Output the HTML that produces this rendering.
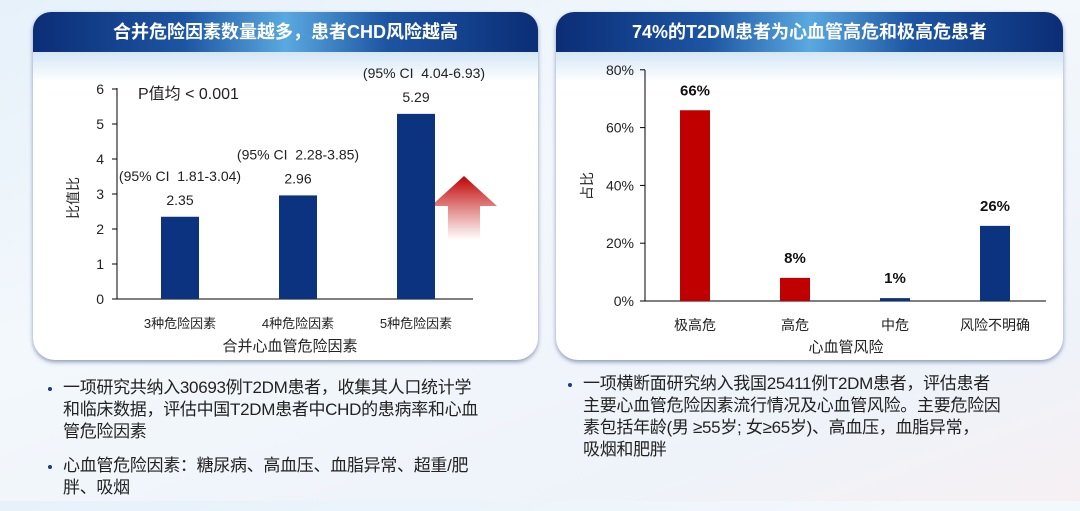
<!DOCTYPE html>
<html><head><meta charset="utf-8"><style>
body{margin:0;width:1080px;height:501px;overflow:hidden;background:linear-gradient(160deg,#e6f1fa 0%,#f3f8fc 40%,#eef3fa 80%,#f6f0f3 100%);font-family:"Liberation Sans","Noto Sans CJK SC",sans-serif;position:relative}
.panel{position:absolute;top:12px;height:348px;background:#fff;border-radius:18px 18px 22px 22px;box-shadow:0 2px 4px rgba(40,60,120,.5);overflow:hidden}
.hdr{height:40px;background:linear-gradient(90deg,#0b2d76 0%,#1d55a3 30%,#5aa9e0 50%,#1d55a3 70%,#0b2d76 100%);color:#fff;font-weight:bold;font-size:18px;text-align:center;line-height:40px}
.fade{height:30px;background:linear-gradient(#d4e6f6,#fff)}
svg{position:absolute;left:0;top:0}
.txt{position:absolute;font-size:17px;color:#222;line-height:22px;white-space:nowrap;letter-spacing:-0.3px}
.txt li{margin-bottom:12px}
ul{margin:0;padding-left:18px}
li::marker{color:#1a3a86;font-size:14px}
text{white-space:pre}
</style></head><body>
<div class="panel" style="left:33px;width:505px"><div class="hdr">合并危险因素数量越多，患者CHD风险越高</div><div class="fade"></div></div>
<div class="panel" style="left:556px;width:507px"><div class="hdr">74%的T2DM患者为心血管高危和极高危患者</div><div class="fade"></div></div>
<svg width="1080" height="501" id="c">
<defs><linearGradient id="ag" x1="0" y1="0" x2="0" y2="1"><stop offset="0" stop-color="#c00000"/><stop offset="1" stop-color="#fff" stop-opacity="0.9"/></linearGradient></defs>
<polygon points="464,176 497,206 480,206 480,240 448,240 448,206 431,206" fill="url(#ag)"/>
</svg>
<div class="txt" style="left:45px;top:377px;width:495px"><ul><li>一项研究共纳入30693例T2DM患者，收集其人口统计学<br>和临床数据，评估中国T2DM患者中CHD的患病率和心血<br>管危险因素</li><li>心血管危险因素：糖尿病、高血压、血脂异常、超重/肥<br>胖、吸烟</li></ul></div>
<div class="txt" style="left:565px;top:373px;width:500px"><ul><li>一项横断面研究纳入我国25411例T2DM患者，评估患者<br>主要心血管危险因素流行情况及心血管风险。主要危险因<br>素包括年龄(男 ≥55岁; 女≥65岁)、高血压，血脂异常，<br>吸烟和肥胖</li></ul></div>
<script>
const leftCats=["3种危险因素","4种危险因素","5种危险因素"];
const leftVals=[2.35,2.96,5.29];
const leftCI=["(95% CI  1.81-3.04)","(95% CI  2.28-3.85)","(95% CI  4.04-6.93)"];
const leftTicks=[0,1,2,3,4,5,6];
const rightCats=["极高危","高危","中危","风险不明确"];
const rightVals=[66,8,1,26];
const rightColors=["#c00000","#c00000","#0b3380","#0b3380"];
const rightTicks=[0,20,40,60,80];
const s=document.getElementById('c');const NS="http://www.w3.org/2000/svg";
function mk(t,a,txt,name){const e=document.createElementNS(NS,t);for(const k in a)e.setAttribute(k,a[k]);if(txt!==undefined)e.textContent=txt;


s.appendChild(e);return e;}
const ly=v=>299-v*35, lx=i=>180+i*118;
mk('line',{x1:117,y1:88,x2:117,y2:299,stroke:'#000'},undefined,'left-y-axis');
mk('line',{x1:117,y1:299,x2:473,y2:299,stroke:'#000'},undefined,'left-x-axis');
leftTicks.forEach(t=>{mk('line',{x1:112,x2:117,y1:ly(t),y2:ly(t),stroke:'#000'},undefined,'left-tick');
mk('text',{x:104,y:ly(t)+5,'text-anchor':'end','font-size':14,fill:'#222'},String(t),'left-tick-label');});
leftVals.forEach((v,i)=>{mk('rect',{x:lx(i)-19,y:ly(v),width:38,height:v*35,fill:'#0b3380'},undefined,'left-bar');
mk('text',{x:lx(i),y:ly(v)-12,'text-anchor':'middle','font-size':14,fill:'#222'},v.toFixed(2),'left-bar-value');
mk('text',{x:lx(i)-(i==2?-8:0),y:ly(v)-36,'text-anchor':'middle','font-size':14,fill:'#222'},leftCI[i],'left-ci-label');
mk('text',{x:lx(i),y:328,'text-anchor':'middle','font-size':13,fill:'#222'},leftCats[i],'left-category-label');});
mk('text',{x:138,y:99,'font-size':16,fill:'#222'},'P值均 < 0.001','p-value-note');
mk('text',{x:290,y:351,'text-anchor':'middle','font-size':15,fill:'#222'},'合并心血管危险因素','left-x-title');
mk('text',{x:0,y:0,'font-size':14,fill:'#222','text-anchor':'middle',transform:'translate(78,198) rotate(-90)'},'比值比','left-y-title');
const ry=v=>301-v*2.89, rx=i=>695+i*100;
mk('line',{x1:645,y1:70,x2:645,y2:301,stroke:'#000'},undefined,'right-y-axis');
mk('line',{x1:645,y1:301,x2:1046,y2:301,stroke:'#000'},undefined,'right-x-axis');
rightTicks.forEach(t=>{mk('line',{x1:640,x2:645,y1:ry(t),y2:ry(t),stroke:'#000'},undefined,'right-tick');
mk('text',{x:634,y:ry(t)+5,'text-anchor':'end','font-size':14,fill:'#222'},t+'%','right-tick-label');});
rightVals.forEach((v,i)=>{mk('rect',{x:rx(i)-15,y:ry(v),width:30,height:Math.max(v*2.89,1.5),fill:rightColors[i]},undefined,'right-bar');
mk('text',{x:rx(i),y:ry(v)-15,'text-anchor':'middle','font-size':15,'font-weight':'bold',fill:'#111'},v+'%','right-bar-value');
mk('text',{x:rx(i),y:330,'text-anchor':'middle','font-size':14,fill:'#222'},rightCats[i],'right-category-label');});
mk('text',{x:846,y:352,'text-anchor':'middle','font-size':15,fill:'#222'},'心血管风险','right-x-title');
mk('text',{x:0,y:0,'font-size':14,fill:'#222','text-anchor':'middle',transform:'translate(592,186) rotate(-90)'},'占比','right-y-title');
</script>
</body></html>
